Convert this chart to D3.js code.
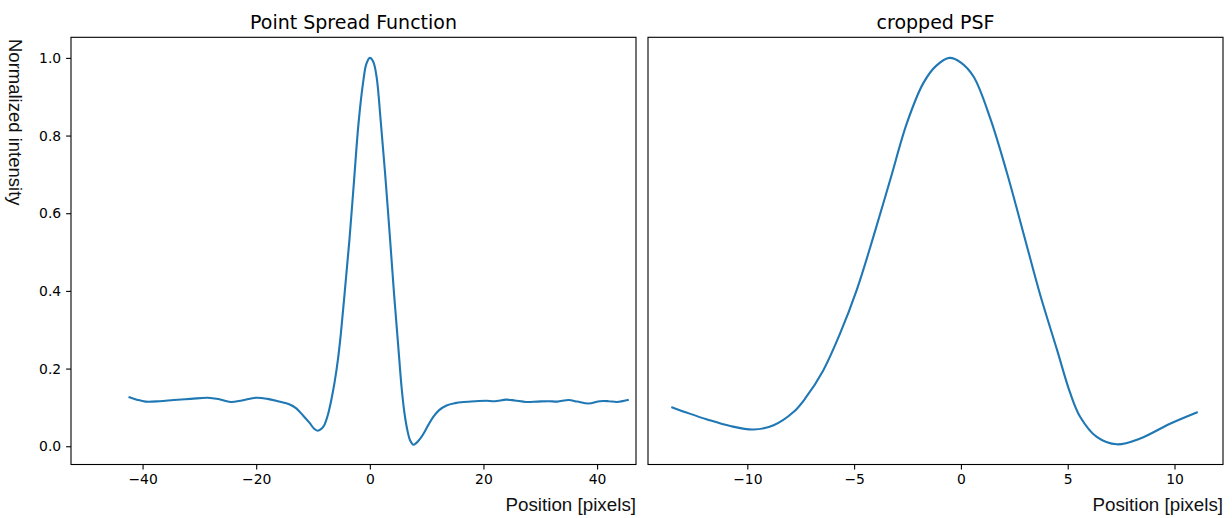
<!DOCTYPE html>
<html>
<head>
<meta charset="utf-8">
<script src="https://cdn.jsdelivr.net/npm/d3@7"></script>
<style>
  html, body { margin: 0; padding: 0; background: #fff; }
  svg { display: block; }
  .tick text { font-family: "DejaVu Sans", sans-serif; font-size: 13.9px; fill: #000; }
</style>
</head>
<body>
<svg id="chart" width="1232" height="518"></svg>
<script>
// ---- Data ----
const psfX = [-42.3, -41, -39.5, -37, -34.5, -31.5, -28.5, -26.5, -24.5, -22.5, -20, -18, -16, -14.2, -13, -11.8, -10.6, -9.8, -9.2, -8.6, -8.0, -7.4, -6.8, -6.2, -5.6, -5.1, -4.4, -3.6, -2.8, -2.0, -1.2, -0.6, 0, 0.6, 1.2, 1.9, 2.7, 3.5, 4.25, 5.0, 5.6, 6.1, 6.6, 7.1, 7.7, 8.3, 9.0, 9.6, 10.3, 11.2, 12.2, 13.5, 15, 16.5, 18.5, 20.5, 22, 24, 25.5, 27.5, 29.5, 31.5, 33, 35, 36.5, 38.5, 40.5, 42, 43.5, 45.4];
const psfY = [0.126, 0.120, 0.115, 0.116, 0.119, 0.122, 0.125, 0.121, 0.114, 0.118, 0.125, 0.122, 0.115, 0.108, 0.098, 0.080, 0.060, 0.045, 0.040, 0.044, 0.055, 0.080, 0.118, 0.165, 0.225, 0.290, 0.400, 0.530, 0.680, 0.830, 0.935, 0.985, 1.0, 0.990, 0.950, 0.840, 0.700, 0.545, 0.395, 0.258, 0.150, 0.085, 0.042, 0.015, 0.004, 0.010, 0.022, 0.036, 0.055, 0.076, 0.093, 0.105, 0.111, 0.114, 0.116, 0.117, 0.116, 0.120, 0.118, 0.114, 0.115, 0.116, 0.115, 0.119, 0.115, 0.110, 0.116, 0.116, 0.114, 0.119];

const cropX = [-13.51, -12.7, -11.88, -10.8, -9.71, -8.77, -7.84, -7.29, -6.44, -5.66, -4.88, -4.10, -3.31, -2.53, -1.76, -1.15, -0.54, 0.0, 0.59, 1.37, 2.15, 2.93, 3.70, 4.49, 5.11, 5.58, 6.36, 7.30, 8.39, 9.79, 11.04];
const cropY = [0.100, 0.084, 0.069, 0.052, 0.043, 0.054, 0.088, 0.123, 0.196, 0.290, 0.402, 0.539, 0.686, 0.832, 0.935, 0.980, 1.0, 0.988, 0.952, 0.845, 0.705, 0.548, 0.392, 0.250, 0.138, 0.076, 0.024, 0.005, 0.020, 0.058, 0.087];

const leftXTicks = [-40, -20, 0, 20, 40];
const leftYTicks = [0.0, 0.2, 0.4, 0.6, 0.8, 1.0];
const rightXTicks = [-10, -5, 0, 5, 10];

const titles = ["Point Spread Function", "cropped PSF"];
const xLabel = "Position [pixels]";
const yLabel = "Normalized intensity";

// ---- Layout ----
const svg = d3.select("#chart");
const axTop = 37.3, axBottom = 464.5;
const yDomain = [-0.047, 1.053];
const lineColor = "#1f77b4";

function panel(opts) {
  const g = svg.append("g");
  const x = d3.scaleLinear().domain(opts.xDomain).range([opts.x0, opts.x1]);
  const y = d3.scaleLinear().domain(yDomain).range([axBottom, axTop]);

  const line = d3.line().x(d => x(d[0])).y(d => y(d[1])).curve(d3.curveCatmullRom.alpha(0.5));
  g.append("path")
    .datum(opts.xs.map((v, i) => [v, opts.ys[i]]))
    .attr("d", line)
    .attr("fill", "none")
    .attr("stroke", lineColor)
    .attr("stroke-width", 2.1)
    .attr("stroke-linejoin", "round")
    .attr("stroke-linecap", "square");

  const xAxis = d3.axisBottom(x).tickValues(opts.xTicks).tickSize(4.9).tickPadding(4.9)
    .tickFormat(d => (d < 0 ? "\u2212" + Math.abs(d) : String(d)));
  const gx = g.append("g").attr("transform", `translate(0,${axBottom})`).call(xAxis);
  gx.select(".domain").remove();
  gx.selectAll(".tick line").attr("stroke", "#000").attr("stroke-width", 1.1);

  if (opts.yTicks) {
    const yAxis = d3.axisLeft(y).tickValues(opts.yTicks).tickSize(4.9).tickPadding(4.9)
      .tickFormat(d3.format(".1f"));
    const gy = g.append("g").attr("transform", `translate(${opts.x0},0)`).call(yAxis);
    gy.select(".domain").remove();
    gy.selectAll(".tick line").attr("stroke", "#000").attr("stroke-width", 1.1);
  }

  g.append("rect")
    .attr("x", opts.x0).attr("y", axTop)
    .attr("width", opts.x1 - opts.x0).attr("height", axBottom - axTop)
    .attr("fill", "none").attr("stroke", "#000").attr("stroke-width", 1.1);

  g.append("text")
    .attr("x", (opts.x0 + opts.x1) / 2).attr("y", axTop - 8.5)
    .attr("text-anchor", "middle")
    .attr("font-family", "DejaVu Sans, sans-serif")
    .attr("font-size", 19)
    .attr("fill", "#000")
    .text(opts.title);

  g.append("text")
    .attr("x", opts.x1).attr("y", 511)
    .attr("text-anchor", "end")
    .attr("font-family", "Liberation Sans, Arial, sans-serif")
    .attr("font-size", 18.8)
    .attr("fill", "#111")
    .text(xLabel);
}

panel({ x0: 71, x1: 636, xDomain: [-52.6, 46.85], xs: psfX, ys: psfY,
        xTicks: leftXTicks, yTicks: leftYTicks, title: titles[0] });
panel({ x0: 648, x1: 1223, xDomain: [-14.65, 12.27], xs: cropX, ys: cropY,
        xTicks: rightXTicks, yTicks: null, title: titles[1] });

svg.append("text")
  .attr("transform", "translate(9,39) rotate(90)")
  .attr("text-anchor", "start")
  .attr("font-family", "Liberation Sans, Arial, sans-serif")
  .attr("font-size", 18.5)
  .attr("fill", "#111")
  .text(yLabel);
</script>
</body>
</html>
